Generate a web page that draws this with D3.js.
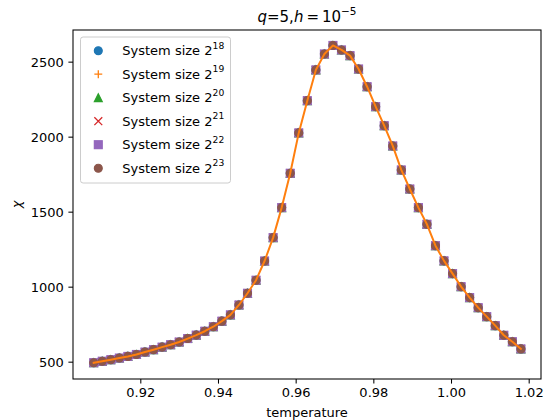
<!DOCTYPE html>
<html>
<head>
<meta charset="utf-8">
<script src="https://cdn.jsdelivr.net/npm/d3@7"></script>
<style>
  html, body { margin: 0; padding: 0; background: #fff; }
  svg text { font-family: "DejaVu Sans", sans-serif; fill: #000; }
</style>
</head>
<body>
<svg id="chart" width="549" height="420"></svg>
<script>
// ---------- data ----------
const temperatures = [
  0.9080, 0.9102, 0.9124, 0.9146, 0.9168, 0.9190, 0.9212, 0.9234, 0.9256, 0.9278,
  0.9300, 0.9322, 0.9344, 0.9366, 0.9388, 0.9410, 0.9432, 0.9454, 0.9476, 0.9498,
  0.9520, 0.9542, 0.9564, 0.9586, 0.9608, 0.9630, 0.9652, 0.9674, 0.9696, 0.9718,
  0.9740, 0.9762, 0.9784, 0.9806, 0.9828, 0.9850, 0.9872, 0.9894, 0.9916, 0.9938,
  0.9960, 0.9982, 1.0004, 1.0026, 1.0048, 1.0070, 1.0092, 1.0114, 1.0136, 1.0158,
  1.0180
];
const chi = [
  493, 503, 513, 524, 535, 548, 564, 580, 597, 613,
  631, 654, 677, 703, 733, 770, 812, 878, 956, 1043,
  1171, 1327, 1527, 1756, 2025, 2240, 2445, 2551, 2608, 2578,
  2540, 2451, 2333, 2200, 2073, 1938, 1778, 1651, 1527, 1416,
  1273, 1172, 1087, 1000, 927, 860, 800, 740, 676, 633,
  585
];
const sizeExponents = ["18", "19", "20", "21", "22", "23"];
const seriesMarkers = ["circle", "plus", "triangle", "cross", "square", "circle"];
const seriesColors = ["#1f77b4", "#ff7f0e", "#2ca02c", "#d62728", "#9467bd", "#8c564b"];
const xTicks = [0.92, 0.94, 0.96, 0.98, 1.00, 1.02];
const yTicks = [500, 1000, 1500, 2000, 2500];

// ---------- layout ----------
const svg = d3.select("#chart");
const L = 73, R = 541, T = 30, B = 379;
const x = d3.scaleLinear().domain([0.90267, 1.02317]).range([L, R]);
const y = d3.scaleLinear().domain([384.5, 2711]).range([B, T]);
const FS = 13;
const MS = 7.9; // marker size px

function drawMarker(g, type, color, cx, cy) {
  const h = MS / 2;
  if (type === "circle") {
    g.append("circle").attr("cx", cx).attr("cy", cy).attr("r", h)
      .attr("fill", color).attr("stroke", color).attr("stroke-width", 1.2);
  } else if (type === "square") {
    g.append("rect").attr("x", cx - h).attr("y", cy - h).attr("width", MS).attr("height", MS)
      .attr("fill", color).attr("stroke", color).attr("stroke-width", 1.2);
  } else if (type === "triangle") {
    g.append("path").attr("d", `M${cx},${cy - h}L${cx - h},${cy + h}L${cx + h},${cy + h}Z`)
      .attr("fill", color).attr("stroke", color).attr("stroke-width", 1.2);
  } else if (type === "plus") {
    g.append("path").attr("d", `M${cx - h},${cy}H${cx + h}M${cx},${cy - h}V${cy + h}`)
      .attr("stroke", color).attr("stroke-width", 1.3).attr("fill", "none");
  } else if (type === "cross") {
    g.append("path").attr("d", `M${cx - h},${cy - h}L${cx + h},${cy + h}M${cx - h},${cy + h}L${cx + h},${cy - h}`)
      .attr("stroke", color).attr("stroke-width", 1.3).attr("fill", "none");
  }
}

// ---------- markers ----------
const plotG = svg.append("g");
seriesMarkers.forEach((m, si) => {
  const g = plotG.append("g");
  temperatures.forEach((t, i) => drawMarker(g, m, seriesColors[si], x(t), y(chi[i])));
});

// ---------- line ----------
const line = d3.line().x((d, i) => x(temperatures[i])).y(d => y(d));
plotG.append("path").datum(chi).attr("d", line)
  .attr("fill", "none").attr("stroke", "#ff7f0e").attr("stroke-width", 2)
  .attr("stroke-linejoin", "round").attr("stroke-linecap", "square");

// ---------- axes ----------
const xAxis = d3.axisBottom(x).tickValues(xTicks).tickFormat(d3.format(".2f")).tickSize(4.6).tickPadding(4.6);
const yAxis = d3.axisLeft(y).tickValues(yTicks).tickFormat(d3.format("d")).tickSize(4.6).tickPadding(4.6);
const gx = svg.append("g").attr("transform", `translate(0,${B})`).call(xAxis);
const gy = svg.append("g").attr("transform", `translate(${L},0)`).call(yAxis);
[gx, gy].forEach(g => {
  g.select(".domain").remove();
  g.selectAll(".tick line").attr("stroke", "#000").attr("stroke-width", 1.05);
  g.selectAll(".tick text").attr("font-size", FS).attr("font-family", "DejaVu Sans").attr("fill", "#000");
});
gx.selectAll(".tick text").attr("dy", "0.71em");
gy.selectAll(".tick text").attr("dy", "0.36em");

// frame
svg.append("rect").attr("x", L).attr("y", T).attr("width", R - L).attr("height", B - T)
  .attr("fill", "none").attr("stroke", "#000").attr("stroke-width", 1.05);

// ---------- labels ----------
svg.append("text").attr("x", (L + R) / 2).attr("y", 416.5).attr("text-anchor", "middle")
  .attr("font-size", FS).text("temperature");
svg.append("text").attr("transform", `translate(21,${(T + B) / 2}) rotate(-90)`)
  .attr("text-anchor", "middle").attr("font-size", FS).attr("font-style", "italic").text("χ");

const title = svg.append("text").attr("x", (L + R) / 2).attr("y", 21.5)
  .attr("text-anchor", "middle").attr("font-size", 15);
title.append("tspan").attr("font-style", "italic").text("q");
title.append("tspan").text("=5,");
title.append("tspan").attr("font-style", "italic").text("h");
title.append("tspan").text("\u2009=\u200910");
title.append("tspan").attr("font-size", 10.5).attr("dy", -6.5).text("\u22125");

// ---------- legend ----------
const lg = svg.append("g");
lg.append("rect").attr("x", 80.5).attr("y", 37).attr("width", 150).attr("height", 146)
  .attr("rx", 2.6).attr("fill", "#fff").attr("fill-opacity", 0.8)
  .attr("stroke", "#cccccc").attr("stroke-width", 1);
sizeExponents.forEach((e, k) => {
  const cy = 50.7 + 23.5 * k;
  drawMarker(lg, seriesMarkers[k], seriesColors[k], 98.3, cy);
  const t = lg.append("text").attr("x", 122.3).attr("y", cy + 4.7).attr("font-size", FS);
  t.append("tspan").text("System size 2");
  t.append("tspan").attr("font-size", 9.2).attr("dy", -6.5).text(e);
});
</script>
</body>
</html>
